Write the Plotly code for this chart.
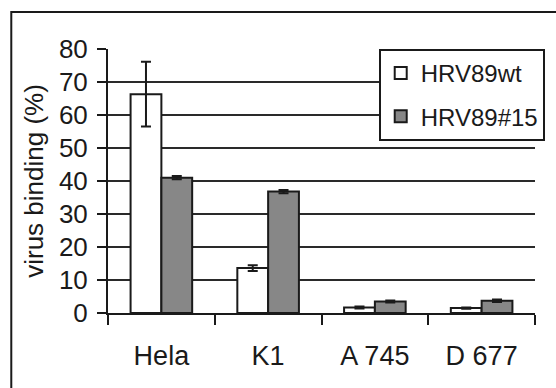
import plotly.graph_objects as go

# Cell lines and virus binding (%) for the two virus strains
cell_lines = ["Hela", "K1", "A 745", "D 677"]
wt_binding = [66.3, 13.6, 1.7, 1.5]
wt_error = [9.8, 0.9, 0.3, 0.2]
mut_binding = [41.0, 36.8, 3.5, 3.7]
mut_error = [0.5, 0.5, 0.3, 0.4]
y_ticks = [0, 10, 20, 30, 40, 50, 60, 70, 80]

FONT = "Liberation Sans, Arial, sans-serif"
INK = "#1a1a1a"

fig = go.Figure()
fig.add_trace(go.Bar(
    name="HRV89wt", x=cell_lines, y=wt_binding,
    marker=dict(color="white", line=dict(color=INK, width=2)),
    error_y=dict(type="data", array=wt_error, color=INK, thickness=2, width=5),
    legendgroup="a",
))
fig.add_trace(go.Bar(
    name="HRV89#15", x=cell_lines, y=mut_binding,
    marker=dict(color="#878787", line=dict(color=INK, width=2)),
    error_y=dict(type="data", array=mut_error, color=INK, thickness=2, width=5),
    legendgroup="b",
))

fig.update_layout(
    width=556, height=388,
    margin=dict(l=108, r=11, t=49, b=75),
    paper_bgcolor="white", plot_bgcolor="white",
    font=dict(family=FONT, size=26, color=INK),
    barmode="group", bargap=0.423, bargroupgap=0,
    legend=dict(
        x=0.634, y=1.0, xanchor="left", yanchor="top",
        bordercolor=INK, borderwidth=2, bgcolor="white",
        font=dict(size=24), tracegroupgap=9, traceorder="grouped",
        itemwidth=30,
    ),
    shapes=[dict(
        type="rect", xref="paper", yref="paper",
        x0=-0.2265, x1=1.2, y0=-0.5, y1=1.14,
        line=dict(color=INK, width=2), layer="below",
    )],
)

fig.update_xaxes(
    type="category", showline=True, linecolor=INK, linewidth=2,
    ticks="outside", tickson="boundaries", ticklen=10, tickwidth=2, tickcolor=INK,
    ticklabelstandoff=18, showgrid=False, tickfont=dict(size=27),
)
fig.update_yaxes(
    range=[0, 80], tickvals=y_ticks, showline=True, linecolor=INK, linewidth=2,
    ticks="outside", ticklen=9, tickwidth=2, tickcolor=INK,
    ticklabelstandoff=4, tickfont=dict(size=26),
    showgrid=True, gridcolor="#2a2a2a", gridwidth=2, zeroline=False,
    title=dict(text="virus binding (%)", font=dict(size=26), standoff=8),
)

fig.write_html("out.html")
